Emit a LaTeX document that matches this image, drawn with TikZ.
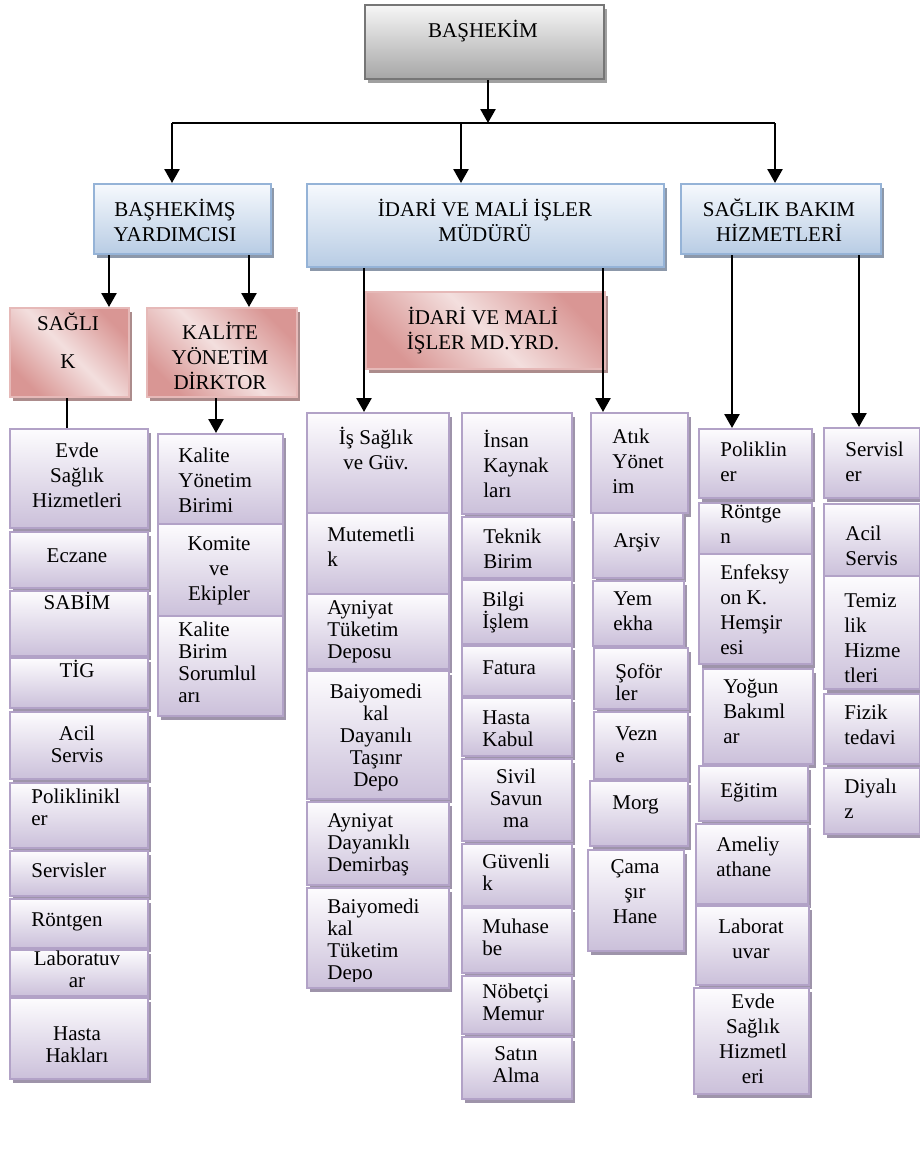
\documentclass[tikz,border=0pt]{standalone}
\usepackage{fontspec}
\setmainfont{Liberation Serif}
\usetikzlibrary{arrows.meta,shadows,positioning}

\definecolor{ptop}{RGB}{253,252,254}
\definecolor{pbot}{RGB}{203,192,218}
\definecolor{pline}{RGB}{178,162,199}
\definecolor{pshad}{RGB}{158,148,170}
\definecolor{btop}{RGB}{246,249,253}
\definecolor{bbot}{RGB}{184,204,228}
\definecolor{bline}{RGB}{149,179,215}
\definecolor{bshad}{RGB}{140,152,170}
\definecolor{rlight}{RGB}{243,223,222}
\definecolor{rdark}{RGB}{217,150,148}
\definecolor{rline}{RGB}{230,185,184}
\definecolor{rshad}{RGB}{172,140,140}
\definecolor{gtop}{RGB}{246,246,246}
\definecolor{gbot}{RGB}{166,166,166}
\definecolor{gline}{RGB}{118,118,118}
\definecolor{gshad}{RGB}{160,160,160}

\pgfdeclareverticalshading{redgloss}{100bp}{color(0bp)=(rdark); color(25bp)=(rdark); color(50bp)=(rlight); color(75bp)=(rdark); color(100bp)=(rdark)}

\begin{document}
\begin{tikzpicture}[x=0.5pt, y=-0.5pt, >=Stealth,
  wh/.style 2 args={minimum width=#1*0.5pt, minimum height=#2*0.5pt},
  obox/.style={anchor=north west, inner sep=0pt, line width=1pt},
  pbox/.style={obox, draw=pline, top color=ptop, bottom color=pbot,
    drop shadow={shadow xshift=1.5pt, shadow yshift=-1.75pt, fill=pshad, opacity=1}},
  bbox/.style={obox, draw=bline, top color=btop, bottom color=bbot,
    drop shadow={shadow xshift=1.5pt, shadow yshift=-1.75pt, fill=bshad, opacity=1}},
  rbox/.style={obox, draw=rline, shade, shading=redgloss, shading angle=-45,
    drop shadow={shadow xshift=1.5pt, shadow yshift=-1.75pt, fill=rshad, opacity=1}},
  gbox/.style={obox, draw=gline, top color=gtop, bottom color=gbot,
    drop shadow={shadow xshift=1.5pt, shadow yshift=-1.75pt, fill=gshad, opacity=1}},
  txt/.style={inner sep=0pt, align=center, anchor=north, yshift=1.75pt,
    font=\fontsize{10.5pt}{12.5pt}\selectfont, execute at begin node=\strut},
  ltxt/.style={txt, align=left, anchor=north west},
  tight/.style={font=\fontsize{10.5pt}{11pt}\selectfont, yshift=-1.05pt},
  arr/.style={-{Triangle[width=7.5pt,length=7pt]}, line width=1.3pt},
  bus/.style={line width=0.9pt}]

  \useasboundingbox (0,0) rectangle (920,1174);
  \fill[white] (0,0) rectangle (920,1174);

  % Top level
  \node[gbox, wh={239}{74}] (bas) at (364,4) {};
  \node[txt] (bas-t) at (483,23) {BAŞHEKİM};

  \node[bbox, wh={177}{70}] (by) at (93,183) {};
  \node[txt] (by-t) at (175,202) {BAŞHEKİMŞ\\YARDIMCISI};
  \node[bbox, wh={357}{83}] (idari) at (306,183) {};
  \node[txt] (idari-t) at (485,202) {İDARİ VE MALİ İŞLER\\MÜDÜRÜ};
  \node[bbox, wh={200}{70}] (sbh) at (680,183) {};
  \node[txt] (sbh-t) at (779,202) {SAĞLIK BAKIM\\HİZMETLERİ};

  % Deputies
  \node[rbox, wh={119}{89}] (sag) at (9,307) {};
  \node[txt, font=\fontsize{10.5pt}{19pt}\selectfont, yshift=4.55pt] (sag-t) at (68,325) {SAĞLI\\K};
  \node[rbox, wh={150}{89}] (kal) at (146,307) {};
  \begin{scope}
    \clip (146,307) rectangle (296,388);
    \node[txt] (kal-t) at (220,325) {KALİTE\\YÖNETİM\\DİRKTOR};
  \end{scope}
  \node[rbox, wh={239}{77}] (myrd) at (365,291) {};
  \node[txt] (myrd-t) at (483,310) {İDARİ VE MALİ\\İŞLER MD.YRD.};

  % Column 1
  \node[pbox, wh={138}{99}] (evde1) at (9,428) {};
  \node[txt] (evde1-t) at (77,446) {Evde\\Sağlık\\Hizmetleri};
  \node[pbox, wh={138}{56}] (eczane) at (9,531) {};
  \node[txt] (eczane-t) at (77,548) {Eczane};
  \node[pbox, wh={138}{65}] (sabim) at (9,590) {};
  \node[txt] (sabim-t) at (77,595) {SABİM};
  \node[pbox, wh={138}{50}] (tig) at (9,657) {};
  \node[txt] (tig-t) at (77,663) {TİG};
  \node[pbox, wh={138}{67}] (acil1) at (9,711) {};
  \node[txt, tight] (acil1-t) at (77,727) {Acil\\Servis};
  \node[pbox, wh={138}{65}] (polik1) at (9,782) {};
  \node[ltxt, tight] (polik1-t) at (31,790) {Poliklinikl\\er};
  \node[pbox, wh={138}{45}] (serv1) at (9,850) {};
  \node[ltxt] (serv1-t) at (31,863) {Servisler};
  \node[pbox, wh={138}{49}] (ront1) at (9,898) {};
  \node[ltxt] (ront1-t) at (31,912) {Röntgen};
  \node[pbox, wh={138}{46}] (lab1) at (9,949) {};
  \node[txt, tight] (lab1-t) at (77,952) {Laboratuv\\ar};
  \node[pbox, wh={138}{81}] (hasta) at (9,997) {};
  \node[txt, tight] (hasta-t) at (77,1028) {Hasta\\Hakları};

  % Column 2
  \node[pbox, wh={125}{90}] (kyb) at (157,433) {};
  \node[ltxt] (kyb-t) at (178,451) {Kalite\\Yönetim\\Birimi};
  \node[pbox, wh={125}{92}] (komite) at (157,523) {};
  \node[txt] (komite-t) at (219,540) {Komite\\ve\\Ekipler};
  \node[pbox, wh={125}{100}] (kbs) at (157,615) {};
  \node[ltxt, tight] (kbs-t) at (178,623) {Kalite\\Birim\\Sorumlul\\arı};

  % Column 3
  \node[pbox, wh={142}{100}] (isg) at (306,412) {};
  \node[txt] (isg-t) at (376,430) {İş Sağlık\\ve Güv.};
  \node[pbox, wh={142}{81}] (mutem) at (306,512) {};
  \node[ltxt] (mutem-t) at (327,530) {Mutemetli\\k};
  \node[pbox, wh={142}{75}] (ayt) at (306,593) {};
  \node[ltxt, tight] (ayt-t) at (327,602) {Ayniyat\\Tüketim\\Deposu};
  \node[pbox, wh={142}{128}] (bdtd) at (306,670) {};
  \node[txt, tight] (bdtd-t) at (376,685) {Baiyomedi\\kal\\Dayanılı\\Taşınr\\Depo};
  \node[pbox, wh={142}{83}] (ayd) at (306,801) {};
  \node[ltxt, tight] (ayd-t) at (327,815) {Ayniyat\\Dayanıklı\\Demirbaş};
  \node[pbox, wh={142}{100}] (btd) at (306,887) {};
  \begin{scope}
    \clip (306,887) rectangle (448,981);
    \node[ltxt, tight] (btd-t) at (327,900) {Baiyomedi\\kal\\Tüketim\\Depo};
  \end{scope}

  % Column 4
  \node[pbox, wh={110}{101}] (ik) at (461,412) {};
  \node[ltxt] (ik-t) at (483,433) {İnsan\\Kaynak\\ları};
  \node[pbox, wh={110}{61}] (teknik) at (461,516) {};
  \node[ltxt] (teknik-t) at (483,532) {Teknik\\Birim};
  \node[pbox, wh={110}{64}] (bilgi) at (461,579) {};
  \node[ltxt, tight] (bilgi-t) at (482,593) {Bilgi\\İşlem};
  \node[pbox, wh={110}{50}] (fatura) at (461,645) {};
  \node[ltxt] (fatura-t) at (482,660) {Fatura};
  \node[pbox, wh={110}{58}] (hkabul) at (461,697) {};
  \node[ltxt, tight] (hkabul-t) at (482,712) {Hasta\\Kabul};
  \node[pbox, wh={110}{82}] (sivil) at (461,758) {};
  \node[txt, tight] (sivil-t) at (516,770) {Sivil\\Savun\\ma};
  \node[pbox, wh={110}{62}] (guv) at (461,843) {};
  \node[ltxt, tight] (guv-t) at (482,855) {Güvenli\\k};
  \node[pbox, wh={110}{65}] (muh) at (461,907) {};
  \node[ltxt, tight] (muh-t) at (482,920) {Muhase\\be};
  \node[pbox, wh={110}{58}] (nobet) at (461,975) {};
  \node[ltxt, tight] (nobet-t) at (482,985) {Nöbetçi\\Memur};
  \node[pbox, wh={110}{62}] (satin) at (461,1036) {};
  \node[txt, tight] (satin-t) at (516,1048) {Satın\\Alma};

  % Column 5
  \node[pbox, wh={97}{100}] (atik) at (590,412) {};
  \node[ltxt] (atik-t) at (612,432) {Atık\\Yönet\\im};
  \node[pbox, wh={90}{65}] (arsiv) at (592,512) {};
  \node[ltxt] (arsiv-t) at (613,533) {Arşiv};
  \node[pbox, wh={91}{65}] (yemek) at (592,580) {};
  \node[ltxt] (yemek-t) at (613,595) {Yem\\ekha};
  \node[pbox, wh={94}{61}] (sofor) at (593,647) {};
  \node[ltxt, tight] (sofor-t) at (615,665) {Şoför\\ler};
  \node[pbox, wh={94}{67}] (vezne) at (593,711) {};
  \node[ltxt, tight] (vezne-t) at (615,728) {Vezn\\e};
  \node[pbox, wh={98}{65}] (morg) at (589,780) {};
  \node[ltxt] (morg-t) at (612,795) {Morg};
  \node[pbox, wh={96}{101}] (camasir) at (587,849) {};
  \node[txt] (camasir-t) at (635,863) {Çama\\şır\\Hane};

  % Column 6
  \node[pbox, wh={113}{69}] (pol) at (698,428) {};
  \node[ltxt] (pol-t) at (720,445) {Poliklin\\er};
  \node[pbox, wh={113}{51}] (ront2) at (698,502) {};
  \begin{scope}
    \clip (698,502) rectangle (811,548);
    \node[ltxt] (ront2-t) at (720,508) {Röntge\\n};
  \end{scope}
  \node[pbox, wh={113}{110}] (enf) at (698,553) {};
  \node[ltxt] (enf-t) at (720,568) {Enfeksy\\on K.\\Hemşir\\esi};
  \node[pbox, wh={110}{95}] (yogun) at (702,668) {};
  \node[ltxt] (yogun-t) at (723,682) {Yoğun\\Bakıml\\ar};
  \node[pbox, wh={109}{55}] (egitim) at (698,765) {};
  \node[ltxt] (egitim-t) at (720,783) {Eğitim};
  \node[pbox, wh={112}{80}] (amel) at (695,823) {};
  \node[ltxt] (amel-t) at (716,840) {Ameliy\\athane};
  \node[pbox, wh={113}{79}] (lab2) at (695,905) {};
  \node[txt] (lab2-t) at (751,922) {Laborat\\uvar};
  \node[pbox, wh={115}{106}] (evde2) at (693,987) {};
  \node[txt] (evde2-t) at (753,997) {Evde\\Sağlık\\Hizmetl\\eri};

  % Column 7
  \node[pbox, wh={96}{70}] (serv2) at (823,427) {};
  \node[ltxt] (serv2-t) at (845,445) {Servisl\\er};
  \node[pbox, wh={96}{72}] (acil2) at (823,503) {};
  \node[ltxt] (acil2-t) at (845,529) {Acil\\Servis};
  \node[pbox, wh={96}{113}] (temiz) at (823,575) {};
  \begin{scope}
    \clip (823,575) rectangle (919,683);
    \node[ltxt] (temiz-t) at (844,597) {Temiz\\lik\\Hizme\\tleri};
  \end{scope}
  \node[pbox, wh={96}{70}] (fizik) at (823,693) {};
  \node[ltxt] (fizik-t) at (844,708) {Fizik\\tedavi};
  \node[pbox, wh={96}{66}] (diyaliz) at (823,767) {};
  \node[ltxt] (diyaliz-t) at (844,782) {Diyalı\\z};

  % Connectors
  \coordinate (busT) at (488,123);
  \coordinate (busL) at (172,123);
  \coordinate (busM) at (461,123);
  \coordinate (busR) at (775,123);
  \draw[arr] (bas.south -| busT) -- (busT);
  \draw[bus] (busL) -- (busR);
  \draw[arr] (busL) -- (busL |- by.north);
  \draw[arr] (busM) -- (busM |- idari.north);
  \draw[arr] (busR) -- (busR |- sbh.north);

  \coordinate (cBy1) at (109,0);
  \coordinate (cBy2) at (249,0);
  \coordinate (cSag) at (67,0);
  \coordinate (cKal) at (216,0);
  \coordinate (cId1) at (364,0);
  \coordinate (cId2) at (603,0);
  \coordinate (cSb1) at (732,0);
  \coordinate (cSb2) at (859,0);
  \draw[arr] (by.south -| cBy1) -- (sag.north -| cBy1);
  \draw[arr] (by.south -| cBy2) -- (kal.north -| cBy2);
  \draw[line width=0.8pt] (sag.south -| cSag) -- (evde1.north -| cSag);
  \draw[arr] (kal.south -| cKal) -- (kyb.north -| cKal);
  \draw[arr] (idari.south -| cId1) -- (isg.north -| cId1);
  \draw[arr] (idari.south -| cId2) -- (atik.north -| cId2);
  \draw[arr] (sbh.south -| cSb1) -- (pol.north -| cSb1);
  \draw[arr] (sbh.south -| cSb2) -- (serv2.north -| cSb2);
\end{tikzpicture}
\end{document}
